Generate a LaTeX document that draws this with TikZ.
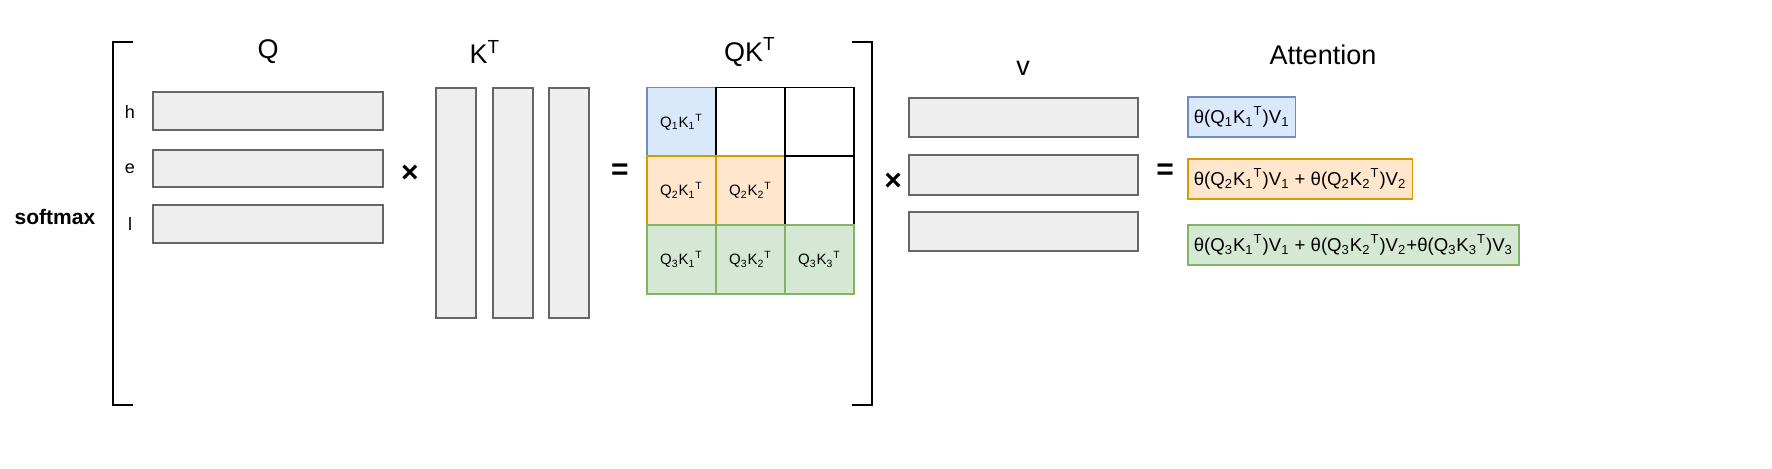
\documentclass[tikz,border=0pt]{standalone}
\usepackage{fontspec}
\setmainfont{Liberation Sans}
\usetikzlibrary{positioning}
\definecolor{gfill}{HTML}{EEEEEE}\definecolor{gline}{HTML}{666666}
\definecolor{bfill}{HTML}{DAE8FC}\definecolor{bline}{HTML}{6C8EBF}
\definecolor{ofill}{HTML}{FFE6CC}\definecolor{oline}{HTML}{D79B00}
\definecolor{vfill}{HTML}{D5E8D4}\definecolor{vline}{HTML}{82B366}
\newcommand{\tr}{\textsuperscript{T}}
\newcommand{\ix}[1]{\textsubscript{#1}}
\begin{document}
\begin{tikzpicture}[x=0.5pt,y=-0.5pt,
  bar/.style={draw=gline,fill=gfill,line width=0.8pt},
  cell/.style={draw=black,line width=0.8pt,minimum width=34.5pt,minimum height=34.5pt,inner sep=0pt,font=\fontsize{7.5}{9}\selectfont},
  blue/.style={fill=bfill,draw=bline},
  orange/.style={fill=ofill,draw=oline},
  green/.style={fill=vfill,draw=vline},
  head/.style={font=\fontsize{13.5}{15}\selectfont},
  op/.style={font=\fontsize{15}{17}\selectfont\bfseries},
  att/.style={draw,line width=0.8pt,anchor=west,inner sep=3pt,minimum height=20pt,font=\fontsize{9.3}{11}\selectfont}]
\useasboundingbox (0,0) rectangle (1772,468);
% brackets
\draw[line width=1pt] (133,42) -- (113,42) -- (113,405) -- (133,405);
\draw[line width=1pt] (852,42) -- (872,42) -- (872,405) -- (852,405);
\node[font=\fontsize{10.5}{12}\selectfont\bfseries] (soft) at (55,217) {softmax};
% Q
\node[head] (q) at (268,52) {Q};
\draw[bar] (153,92) rectangle (383,130);
\draw[bar] (153,150) rectangle (383,187);
\draw[bar] (153,205) rectangle (383,243);
\node[font=\small] (h) at (130,112) {h};
\node[font=\small] (e) at (130,169) {e};
\node[font=\small] (l) at (130,224) {l};
\node[op] (x1) at (410,174) {×};
% K^T
\node[head] (kt) at (485,52) {K\textsuperscript{T}};
\foreach \x in {436,493,549} \draw[bar] (\x,88) rectangle (\x+40,318);
\node[op] (eq1) at (620,172) {=};
% QK^T
\node[head] (qkt) at (750,52) {QK\textsuperscript{T}};
\node[cell,blue] (c11) at (681.5,122) {Q\ix1K\ix1\tr};
\node[cell] (c12) at (750.5,122) {};
\node[cell] (c13) at (819.5,122) {};
\node[cell,orange] (c21) at (681.5,190.5) {Q\ix2K\ix1\tr};
\node[cell,orange] (c22) at (750.5,190.5) {Q\ix2K\ix2\tr};
\node[cell] (c23) at (819.5,190.5) {};
\node[cell,green] (c31) at (681.5,259.5) {Q\ix3K\ix1\tr};
\node[cell,green] (c32) at (750.5,259.5) {Q\ix3K\ix2\tr};
\node[cell,green] (c33) at (819.5,259.5) {Q\ix3K\ix3\tr};
\node[op] (x2) at (893,182) {×};
% v
\node[head] (v) at (1023,68) {v};
\draw[bar] (909,98) rectangle (1138,137);
\draw[bar] (909,155) rectangle (1138,195);
\draw[bar] (909,212) rectangle (1138,251);
\node[op] (eq2) at (1165,172) {=};
% attention
\node[head] (att) at (1323,55) {Attention};
\node[att,blue] (a1) at (1187,117) {θ(Q\ix1K\ix1\tr)V\ix1};
\node[att,orange] (a2) at (1187,179) {θ(Q\ix2K\ix1\tr)V\ix1 + θ(Q\ix2K\ix2\tr)V\ix2};
\node[att,green] (a3) at (1187,245) {θ(Q\ix3K\ix1\tr)V\ix1 + θ(Q\ix3K\ix2\tr)V\ix2+θ(Q\ix3K\ix3\tr)V\ix3};
\end{tikzpicture}
\end{document}
